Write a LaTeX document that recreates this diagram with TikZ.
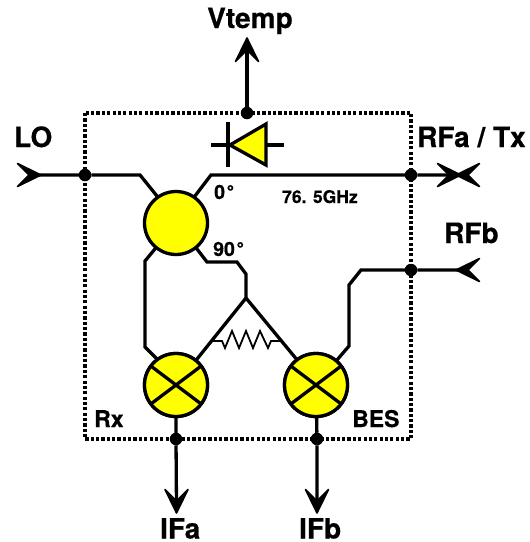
\documentclass[tikz,border=0pt]{standalone}
\usepackage{fontspec}
\setmainfont[BoldFont={TeX Gyre Heros Bold},BoldFeatures={FakeBold=0.5}]{TeX Gyre Heros}
\definecolor{ballyellow}{RGB}{255,255,0}
\tikzset{
  wire/.style={line width=3.3pt,line join=miter},
  bigtxt/.style={font=\bfseries\fontsize{28}{28}\selectfont,anchor=base west,inner sep=0pt,text depth=0pt},
  midtxt/.style={font=\bfseries\fontsize{23}{23}\selectfont,anchor=base west,inner sep=0pt},
  degtxt/.style={font=\bfseries\fontsize{19.5}{19.5}\selectfont,anchor=base west,inner sep=0pt},
  smalltxt/.style={font=\bfseries\fontsize{17.5}{17.5}\selectfont,anchor=base west,inner sep=0pt},
  ball/.style={circle,draw=black,fill=ballyellow,line width=3.3pt,minimum size=63pt,inner sep=0pt,outer sep=0pt},
  joint/.style={circle,fill=black,minimum size=12.5pt,inner sep=0pt,outer sep=0pt},
  dotbox/.style={line width=3.3pt,dash pattern=on 3.2pt off 2.15pt},
  barb/.pic={\filldraw[black,line width=1.6pt,line join=round] (-1,0) -- (-24.5,-11.5) -- (-13,0) -- (-24.5,11.5) -- cycle;}
}
\begin{document}
\begin{tikzpicture}[x=1pt,y=-1pt]
\useasboundingbox (0,0) rectangle (530,542);
% dotted frame
\draw[dotbox] (85,113) rectangle (411,439);
% blocks
\node[ball] (hyb) at (176,223) {};
\node[ball] (mixa) at (176,385) {};
\node[ball] (mixb) at (316,385) {};
% joints
\node[joint] (jlo) at (85,175) {};
\node[joint] (jrfa) at (411,175) {};
\node[joint] (jrfb) at (411,270) {};
\node[joint] (jv) at (247,113) {};
\node[joint] (jifa) at (176,439) {};
\node[joint] (jifb) at (317,439) {};
% free ends
\coordinate (lo) at (32,175);
\coordinate (rfa) at (455,175);
\coordinate (rfb) at (462,270);
\coordinate (vt) at (247,46);
\coordinate (ifa) at (176.5,506);
\coordinate (ifb) at (317,506);
\coordinate (top) at (246,298);
\coordinate (rl) at (212,341);
\coordinate (rr) at (282,341);
% connectors
\draw[wire] (lo) -- (jlo) -- (140,175) -- (hyb.125);
\draw[wire] (hyb.55) -- (211,175) -- (jrfa) -- (rfa);
\draw[wire] (hyb.231) -- (145,261) -- (145,347) -- (mixa.126);
\draw[wire] (hyb.-51) -- (207,262) -- (237,262) -- (246,274) -- (top);
\draw[wire] (top) -- (mixa.51);
\draw[wire] (top) -- (mixb.127);
\draw[wire] (rfb) -- (jrfb) -- (361,270) -- (349,285) -- (349,346) -- (mixb.50);
\draw[wire] (jv) -- (vt);
\draw[wire] (mixa) -- (jifa) -- (ifa);
\draw[wire] (mixb) -- (jifb) -- (ifb);
\node[ball] at (mixa) {};
\node[ball] at (mixb) {};
% mixer crosses
\draw[wire] (mixa.143) -- (mixa.-37);
\draw[wire] (mixa.37) -- (mixa.217);
\draw[wire] (mixb.143) -- (mixb.-37);
\draw[wire] (mixb.37) -- (mixb.217);
% resistor
\draw[line width=1.8pt,line join=miter] (rl) -- (222,341) -- (225,348) -- (232,331) -- (239,348) -- (246,331) -- (253,348) -- (260,331) -- (268,348) -- (271,341) -- (rr);
% diode
\draw[wire,fill=ballyellow] (230,145) -- (266,124) -- (266,165) -- cycle;
\draw[wire] (228,122) -- (228,167);
\draw[wire] (211,145) -- (228,145);
\draw[wire] (266,145) -- (284,145);
% arrowheads
\pic at (42,175) {barb};
\pic at (462,175) {barb};
\pic[rotate=180] at (455,175) {barb};
\pic[rotate=180] at (455,270) {barb};
\pic[rotate=90] at (247,37) {barb};
\pic[rotate=-90] at (176.5,514) {barb};
\pic[rotate=-90] at (317,514) {barb};
% labels
\node[bigtxt] (tlo) at (14,147) {LO};
\node[bigtxt] (tv) at (207,28) {Vtemp};
\node[bigtxt] (trfa) at (417,147) {RFa / Tx};
\node[bigtxt] (trfb) at (444,243) {RFb};
\node[bigtxt] (tifa) at (160,538.5) {IFa};
\node[bigtxt] (tifb) at (299,538.5) {IFb};
\node[midtxt] (trx) at (94,427) {Rx};
\node[midtxt] (tbes) at (352,427) {BES};
\node[degtxt] (t0) at (214,199) {0\kern1.5pt°};
\node[degtxt] (t90) at (213,256) {90\kern1.5pt°};
\node[smalltxt] (tf) at (282,203) {76. 5GHz};
\end{tikzpicture}
\end{document}
